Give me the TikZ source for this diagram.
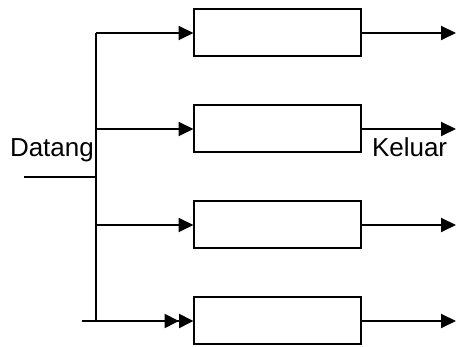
\documentclass[tikz,border=0pt]{standalone}
\usepackage{fontspec}
\setmainfont{Liberation Sans}
\usetikzlibrary{arrows.meta}
\begin{document}
\begin{tikzpicture}[x=1pt,y=-1pt,
  line width=2pt,
  server/.style={draw, line width=2pt, minimum width=167pt, minimum height=47pt, inner sep=0pt, outer sep=0pt},
  tip/.style={-{Triangle[length=15pt,width=14pt]}},
  dtip/.style={-{Triangle[length=14.5pt,width=14pt,sep=0pt]Triangle[length=14.5pt,width=14pt]}},
  lbl/.style={font=\fontsize{26}{30}\selectfont, inner sep=0pt, anchor=base west}]
\useasboundingbox (0,0) rectangle (456,347);
\node[server] (b1) at (277,33) {};
\node[server] (b2) at (277,129) {};
\node[server] (b3) at (277,225) {};
\node[server] (b4) at (277,321) {};
\coordinate (v1) at (96,33);
\coordinate (v2) at (96,129);
\coordinate (v3) at (96,225);
\coordinate (v4) at (96,321);
\coordinate (vin) at (96,177);
\coordinate (in) at (24,177);
\coordinate (in4) at (82,321);
\coordinate (o1) at (456,33);
\coordinate (o2) at (456,129);
\coordinate (o3) at (456,225);
\coordinate (o4) at (456,321);
\draw (v1) -- (v4);
\draw (in) -- (vin);
\draw[tip] (v1) -- (b1.west);
\draw[tip] (v2) -- (b2.west);
\draw[tip] (v3) -- (b3.west);
\draw[dtip] (in4) -- (b4.west);
\draw[tip] (b1.east) -- (o1);
\draw[tip] (b2.east) -- (o2);
\draw[tip] (b3.east) -- (o3);
\draw[tip] (b4.east) -- (o4);
\node[lbl] (datang) at (9,157) {Datang};
\node[lbl] (keluar) at (371,157) {Keluar};
\end{tikzpicture}
\end{document}
